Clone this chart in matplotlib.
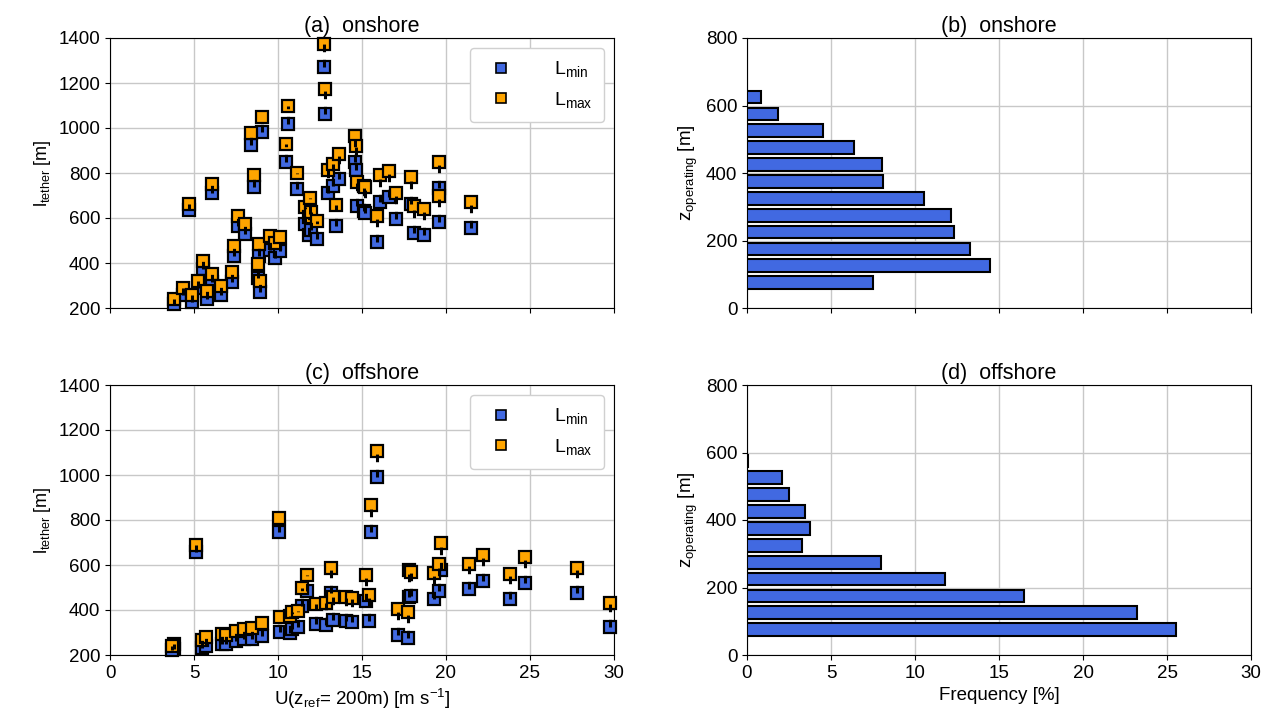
import numpy as np
import matplotlib
matplotlib.use("Agg")
import matplotlib.pyplot as plt
from matplotlib.lines import Line2D

plt.rcParams['font.family'] = ['Liberation Sans', 'DejaVu Sans']
plt.rcParams['mathtext.default'] = 'regular'

# onshore tether lengths vs wind speed
on_u = [3.79, 4.35, 4.72, 4.88, 5.22, 5.56, 5.78, 6.07, 6.07, 6.63, 7.26, 7.36, 7.62,
        8.06, 8.41, 8.57, 8.81, 8.85, 8.91, 9.07, 9.5, 9.84, 10.1, 10.46, 10.6, 11.15,
        11.6, 11.9, 11.85, 11.95, 12.32, 12.72, 12.78, 13.0, 13.27, 13.48, 13.63, 14.56,
        14.62, 14.68, 15.12, 15.2, 15.91, 16.07, 16.61, 17.0, 17.93, 18.12, 18.68, 19.56,
        19.6, 21.46]
on_lmin = [216, 257, 635, 228, 287, 373, 241, 711, 316, 260, 315, 430, 563,
           527, 923, 738, 333, 432, 269, 983, 459, 423, 455, 850, 1016, 731,
           575, 620, 525, 548, 505, 1271, 1062, 712, 742, 565, 775, 848,
           812, 652, 630, 622, 492, 672, 695, 597, 662, 535, 525, 733,
           583, 556]
on_lmax = [242, 290, 662, 260, 319, 407, 277, 750, 351, 298, 362, 474, 609,
           575, 978, 790, 397, 486, 322, 1050, 518, 490, 516, 930, 1100, 800,
           648, 690, 604, 627, 585, 1375, 1175, 812, 840, 660, 885, 965,
           922, 762, 742, 738, 608, 790, 810, 712, 782, 652, 640, 850,
           700, 672]

# offshore tether lengths vs wind speed
off_u = [3.81, 3.7, 5.14, 5.5, 5.69, 6.69, 6.88, 7.48, 7.98, 8.47, 9.03, 10.06, 10.1,
         10.7, 10.81, 11.19, 11.45, 11.71, 12.24, 12.88, 13.13, 13.28, 14.07, 14.39,
         15.24, 15.42, 15.53, 15.92, 17.12, 17.74, 17.8, 17.9, 19.27, 19.57, 19.69,
         21.34, 22.23, 23.82, 24.69, 27.82, 29.75]
off_lmin = [227, 222, 659, 231, 242, 249, 251, 264, 271, 271, 284, 747, 302,
            300, 316, 324, 419, 484, 338, 333, 477, 356, 353, 348,
            440, 353, 747, 990, 289, 277, 459, 464, 449, 486, 578,
            492, 529, 447, 519, 474, 323]
off_lmax = [249, 240, 689, 267, 280, 293, 290, 307, 316, 319, 344, 809, 369,
            373, 391, 396, 498, 556, 427, 431, 587, 460, 460, 453,
            556, 467, 865, 1105, 403, 393, 578, 567, 563, 603, 696,
            604, 644, 560, 637, 585, 433]

# operating height histograms
on_z = [75, 125, 175, 225, 275, 325, 375, 425, 475, 525, 575, 625]
on_freq = [7.5, 14.45, 13.3, 12.35, 12.15, 10.55, 8.1, 8.05, 6.35, 4.5, 1.85, 0.85]
off_z = [75, 125, 175, 225, 275, 325, 375, 425, 475, 525, 575]
off_freq = [25.55, 23.2, 16.5, 11.8, 7.95, 3.25, 3.75, 3.45, 2.5, 2.1, 0.05]

blue = '#4169E1'
orange = '#FFA500'

fig = plt.figure(figsize=(12.71, 7.23), dpi=100)
W, H = 1271, 723


def add_ax(l, t, r, b):
    return fig.add_axes([l / W, 1 - b / H, (r - l) / W, (b - t) / H])


ax_a = add_ax(110, 38, 614, 308)
ax_b = add_ax(747, 38, 1251, 308)
ax_c = add_ax(110, 385, 614, 655)
ax_d = add_ax(747, 385, 1251, 655)


def scatter_panel(ax, u, lmin, lmax, title, show_x):
    ax.plot(u, lmin, 's', color=blue, mec='k', mew=1.6, ms=8, zorder=3, clip_on=False)
    ax.plot(u, lmax, 's', color=orange, mec='k', mew=1.6, ms=8, zorder=3, clip_on=False)
    ax.vlines(u, lmin, lmax, colors='k', linestyles=(0, (2.5, 2.5)), lw=2.2, zorder=4)
    ax.set_xlim(0, 30)
    ax.set_ylim(200, 1400)
    ax.set_xticks(np.arange(0, 31, 5))
    ax.set_yticks(np.arange(200, 1401, 200))
    ax.grid(True, color='#c8c8c8', lw=1)
    ax.set_axisbelow(True)
    ax.set_title(title, fontsize=15.5, pad=4)
    ax.set_ylabel('$l_{tether}$ [m]', fontsize=13)
    ax.tick_params(labelsize=13.5)
    if not show_x:
        ax.tick_params(labelbottom=False)
    else:
        ax.set_xlabel('U($z_{ref}$= 200m) [m s$^{-1}$]', fontsize=13.5)
    handles = [Line2D([], [], ls='', marker='s', color=blue, mec='k', mew=1.2, ms=6.5),
               Line2D([], [], ls='', marker='s', color=orange, mec='k', mew=1.2, ms=6.5)]
    leg = ax.legend(handles, ['$L_{min}$', '$L_{max}$'], loc='upper right', fontsize=14,
                    handletextpad=1.7, borderpad=0.6, labelspacing=0.55, framealpha=1,
                    edgecolor='#d0d0d0')
    leg.set_zorder(5)


def bar_panel(ax, z, freq, title, show_x):
    ax.barh(z, freq, height=38, color=blue, edgecolor='k', lw=1.5, zorder=3)
    ax.set_xlim(0, 30)
    ax.set_ylim(0, 800)
    ax.set_xticks(np.arange(0, 31, 5))
    ax.set_yticks(np.arange(0, 801, 200))
    ax.grid(True, color='#c8c8c8', lw=1)
    ax.set_axisbelow(True)
    ax.set_title(title, fontsize=15.5, pad=4)
    ax.set_ylabel('$z_{operating}$ [m]', fontsize=13.5)
    ax.tick_params(labelsize=13.5)
    if not show_x:
        ax.tick_params(labelbottom=False)
    else:
        ax.set_xlabel('Frequency [%]', fontsize=13.5)


scatter_panel(ax_a, on_u, on_lmin, on_lmax, '(a)  onshore', False)
scatter_panel(ax_c, off_u, off_lmin, off_lmax, '(c)  offshore', True)
bar_panel(ax_b, on_z, on_freq, '(b)  onshore', False)
bar_panel(ax_d, off_z, off_freq, '(d)  offshore', True)

fig.savefig('out.png', dpi=100)
